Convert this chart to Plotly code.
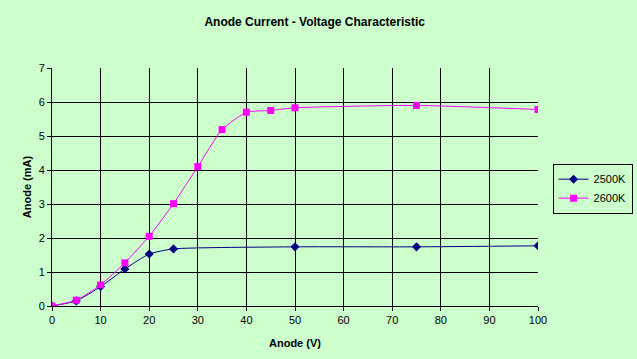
import plotly.graph_objects as go

x_2500 = [0, 5, 10, 15, 20, 25, 50, 75, 100]
y_2500 = [0, 0.15, 0.57, 1.09, 1.53, 1.68, 1.74, 1.74, 1.77]
x_2600 = [0, 5, 10, 15, 20, 25, 30, 35, 40, 45, 50, 75, 100]
y_2600 = [0, 0.17, 0.62, 1.27, 2.05, 3.01, 4.1, 5.19, 5.7, 5.75, 5.83, 5.9, 5.78]

bg = "#CCFFCC"
font = "Liberation Sans, Arial, sans-serif"

fig = go.Figure()
fig.add_trace(go.Scatter(x=x_2500, y=y_2500, name="2500K", mode="lines+markers",
                         line=dict(color="#000080", width=1, shape="spline", smoothing=0.5),
                         marker=dict(symbol="diamond", size=7, color="#000080")))
fig.add_trace(go.Scatter(x=x_2600, y=y_2600, name="2600K", mode="lines+markers",
                         line=dict(color="#FF00FF", width=1, shape="spline", smoothing=0.5),
                         marker=dict(symbol="square", size=7, color="#FF00FF")))

fig.update_layout(
    width=637, height=359,
    paper_bgcolor=bg, plot_bgcolor=bg,
    margin=dict(l=52, r=99, t=68, b=53, autoexpand=False),
    title=dict(text="<b>Anode Current - Voltage Characteristic</b>", x=0.494, xanchor="center",
               y=0.94, yanchor="middle", font=dict(family=font, size=12, color="black")),
    font=dict(family=font, size=11, color="black"),
    showlegend=True,
    legend=dict(x=1.03, y=0.598, xanchor="left", yanchor="top", bgcolor=bg,
                bordercolor="black", borderwidth=1, font=dict(size=11),
                itemwidth=30, tracegroupgap=0),
    xaxis=dict(range=[0, 100], dtick=10, showgrid=True, gridcolor="black", gridwidth=1,
               showline=True, linecolor="black", linewidth=1, ticks="outside", ticklen=4,
               tickcolor="black", zeroline=False,
               title=dict(text="<b>Anode (V)</b>", font=dict(size=11), standoff=14)),
    yaxis=dict(range=[0, 7], dtick=1, showgrid=True, gridcolor="black", gridwidth=1,
               showline=True, linecolor="black", linewidth=1, ticks="outside", ticklen=4,
               tickcolor="black", zeroline=False,
               title=dict(text="<b>Anode (mA)</b>", font=dict(size=11), standoff=4)),
)

fig.write_html("out.html", config={"displayModeBar": False},
               post_script="document.body.style.margin='0';document.body.style.background='#CCFFCC';")
